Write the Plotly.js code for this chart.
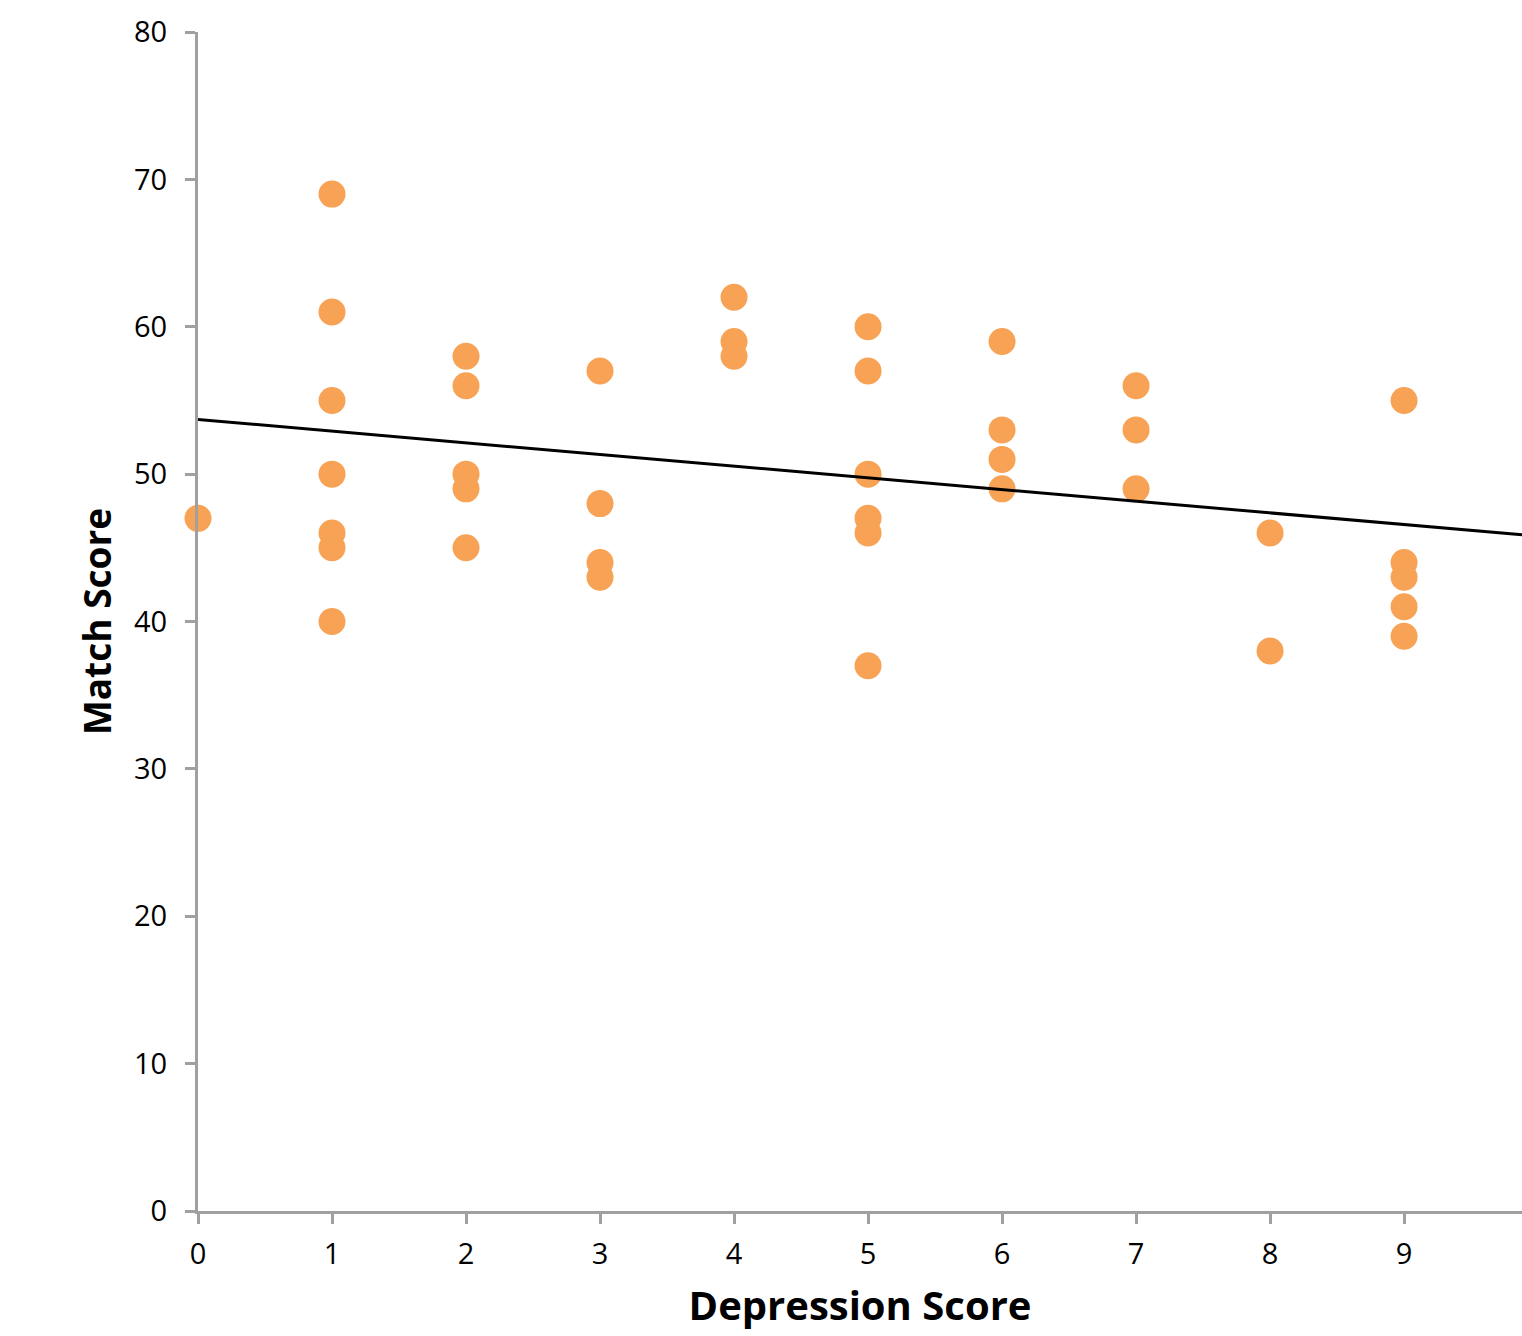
<!DOCTYPE html>
<html>
<head>
<meta charset="utf-8">
<script src="https://cdn.plot.ly/plotly-3.0.1.min.js"></script>
<style>html,body{margin:0;padding:0;background:#fff;}#chart{width:1522px;height:1336px;}</style>
</head>
<body>
<div id="chart"></div>
<script>
// Data
const depressionScore = [0, 1,1,1,1,1,1,1, 2,2,2,2,2, 3,3,3,3, 4,4,4, 5,5,5,5,5,5, 6,6,6,6, 7,7,7, 8,8, 9,9,9,9,9];
const matchScore      = [47, 69,61,55,50,46,45,40, 58,56,50,49,45, 57,48,44,43, 62,59,58, 60,57,50,47,46,37, 59,53,51,49, 56,53,49, 46,38, 55,44,43,41,39];
const trendX = [0, 9.88];
const trendY = [53.71, 45.88];
const xTicks = [0,1,2,3,4,5,6,7,8,9];
const yTicks = [0,10,20,30,40,50,60,70,80];

const traces = [
  {
    x: depressionScore, y: matchScore, type: 'scatter', mode: 'markers',
    marker: {color: '#F7A254', size: 27, line: {width: 0}},
    cliponaxis: false, hoverinfo: 'x+y', showlegend: false
  },
  {
    x: trendX, y: trendY, type: 'scatter', mode: 'lines',
    line: {color: '#000000', width: 3}, showlegend: false, hoverinfo: 'skip'
  }
];

const axisFont = {family: '"Open Sans", sans-serif', size: 29, color: '#000'};
const layout = {
  width: 1522, height: 1336,
  margin: {l: 198, r: 0, t: 32, b: 125, pad: 0},
  paper_bgcolor: '#fff', plot_bgcolor: '#fff',
  showlegend: false,
  xaxis: {
    range: [0, 9.88], tickvals: xTicks, ticktext: xTicks.map(String),
    showgrid: false, zeroline: false, showline: true, linecolor: '#A0A0A0', linewidth: 3,
    ticks: 'outside', ticklen: 10, tickwidth: 3, tickcolor: '#A0A0A0',
    tickfont: axisFont, ticklabelstandoff: 5,
    title: {text: 'Depression Score', font: {family: '"Open Sans", sans-serif', size: 40, color: '#000', weight: 'bold'}, standoff: 22}
  },
  yaxis: {
    range: [0, 80], tickvals: yTicks, ticktext: yTicks.map(String),
    showgrid: false, zeroline: false, showline: true, linecolor: '#A0A0A0', linewidth: 3,
    ticks: 'outside', ticklen: 10, tickwidth: 3, tickcolor: '#A0A0A0',
    tickfont: axisFont, ticklabelstandoff: 12,
    title: {text: 'Match Score', font: {family: '"Open Sans", sans-serif', size: 37, color: '#000', weight: 'bold'}, standoff: 12}
  }
};

Plotly.newPlot('chart', traces, layout, {displayModeBar: false, staticPlot: true});
</script>
</body>
</html>
